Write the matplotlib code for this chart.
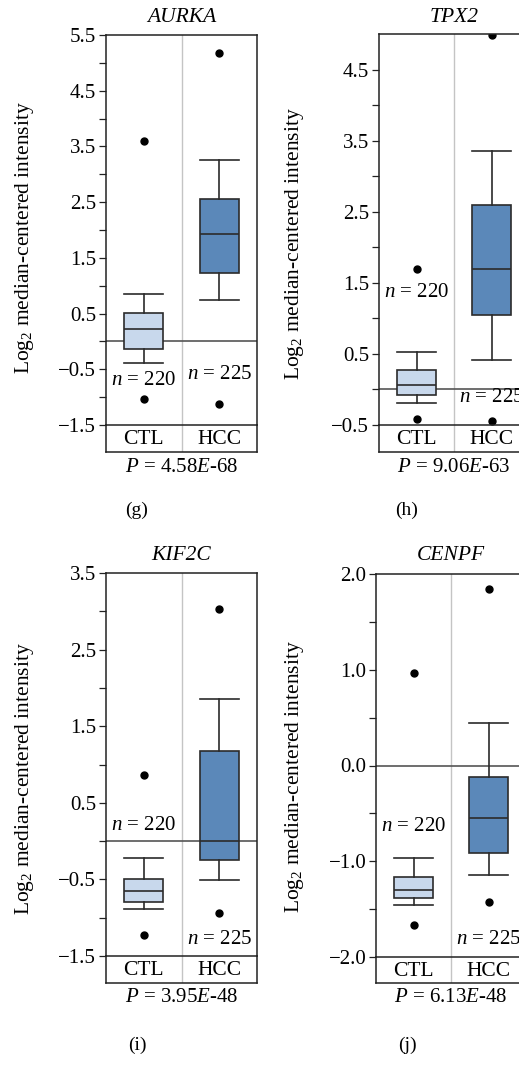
import numpy as np
import matplotlib
matplotlib.use('Agg')
import matplotlib.pyplot as plt
from matplotlib.ticker import FuncFormatter

plt.rcParams['font.family'] = ['Liberation Serif', 'DejaVu Serif']
plt.rcParams['mathtext.fontset'] = 'custom'
plt.rcParams['mathtext.rm'] = 'Liberation Serif'
plt.rcParams['mathtext.it'] = 'Liberation Serif:italic'

# data
genes = ['AURKA', 'TPX2', 'KIF2C', 'CENPF']
panel_tags = ['(g)', '(h)', '(i)', '(j)']
groups = ['CTL', 'HCC']
n_counts = [220, 225]
p_mant = ['4.58', '9.06', '3.95', '6.13']
p_exp = ['68', '63', '48', '48']

# CTL box stats per gene
ctl_whislo = [-0.39, -0.19, -0.89, -1.46]
ctl_q1 = [-0.14, -0.08, -0.79, -1.38]
ctl_med = [0.22, 0.06, -0.65, -1.30]
ctl_q3 = [0.51, 0.27, -0.50, -1.16]
ctl_whishi = [0.86, 0.52, -0.22, -0.97]
ctl_fliers = [[3.60, -1.03], [1.70, -0.42], [0.86, -1.23], [0.97, -1.67]]

# HCC box stats per gene
hcc_whislo = [0.74, 0.42, -0.51, -1.14]
hcc_q1 = [1.23, 1.05, -0.25, -0.91]
hcc_med = [1.92, 1.70, 0.0, -0.55]
hcc_q3 = [2.56, 2.59, 1.18, -0.12]
hcc_whishi = [3.25, 3.36, 1.85, 0.44]
hcc_fliers = [[5.17, -1.13], [4.98, -0.44], [3.03, -0.94], [1.84, -1.43]]

y_ranges = [(-1.5, 5.5), (-0.5, 5.0), (-1.5, 3.5), (-2.0, 2.0)]
n_label_y = [(-0.70, -0.60), (1.36, -0.12), (0.20, -1.28), (-0.64, -1.82)]

# layout in pixels: left, right, top, baseline, strip bottom
W, H = 519, 1070
layout = [(106, 257, 35, 425, 452), (379, 529, 34, 425, 452),
          (106, 257, 573, 956, 983), (376, 526, 574, 957, 983)]
title_y = [17, 18, 556, 556]
p_y = [468, 468, 998, 998]
tag_pos = [(137, 510), (407, 510), (137, 1045), (407, 1045)]
ylab_pos = [(25, 238), (295, 244), (25, 779), (295, 777)]

light = '#c8d8ec'
dark = '#5b88b9'
edge = '#2b2b2b'
frame = '#222222'


def fx(x):
    return x / W


def fy(y):
    return 1 - y / H


def fmt(v, pos):
    return ('%.1f' % v).replace('-', '\u2212')


fig = plt.figure(figsize=(W / 100, H / 100), dpi=100)

for i, gene in enumerate(genes):
    left, right, top, base, bot = layout[i]
    strip = fig.add_axes([fx(left), fy(bot), fx(right) - fx(left), fy(base) - fy(bot)])
    ax = fig.add_axes([fx(left), fy(base), fx(right) - fx(left), fy(top) - fy(base)])

    stats = [
        dict(med=ctl_med[i], q1=ctl_q1[i], q3=ctl_q3[i], whislo=ctl_whislo[i],
             whishi=ctl_whishi[i], fliers=ctl_fliers[i], label=groups[0]),
        dict(med=hcc_med[i], q1=hcc_q1[i], q3=hcc_q3[i], whislo=hcc_whislo[i],
             whishi=hcc_whishi[i], fliers=hcc_fliers[i], label=groups[1]),
    ]
    bp = ax.bxp(stats, positions=[1, 2], widths=0.52, capwidths=[0.52, 0.52],
                patch_artist=True, showfliers=True,
                boxprops=dict(edgecolor=edge, linewidth=1.2),
                medianprops=dict(color=edge, linewidth=1.2),
                whiskerprops=dict(color=edge, linewidth=1.2),
                capprops=dict(color=edge, linewidth=1.2),
                flierprops=dict(marker='o', markerfacecolor='black',
                                markeredgecolor='black', markersize=5))
    for patch, c in zip(bp['boxes'], [light, dark]):
        patch.set_facecolor(c)

    ax.axhline(0, color='#555555', lw=1.2, zorder=1)
    ax.axvline(1.5, color='#c4c4c4', lw=1.0, zorder=0)
    ax.set_xlim(0.5, 2.5)
    lo, hi = y_ranges[i]
    ax.set_ylim(lo, hi)
    ax.set_yticks(np.arange(lo, hi + 0.01, 1.0))
    ax.set_yticks(np.arange(lo + 0.5, hi, 1.0), minor=True)
    ax.yaxis.set_major_formatter(FuncFormatter(fmt))
    ax.set_xticks([])
    ax.tick_params(axis='y', which='both', direction='out', length=5, width=0.9,
                   color=frame, labelsize=15, pad=2)
    ax.patch.set_alpha(0)
    for s in ax.spines.values():
        s.set_color(frame)
        s.set_linewidth(1.1)

    for k, g in enumerate(groups):
        ax.text(k + 1, n_label_y[i][k], '$n$ = %d' % n_counts[k], ha='center',
                va='center', fontsize=15)

    strip.set_xlim(0.5, 2.5)
    strip.set_ylim(0, 1)
    strip.axvline(1.5, color='#c4c4c4', lw=1.0)
    strip.set_xticks([])
    strip.set_yticks([])
    strip.patch.set_alpha(0)
    strip.spines['top'].set_visible(False)
    for s in ['left', 'right', 'bottom']:
        strip.spines[s].set_color(frame)
        strip.spines[s].set_linewidth(1.1)
    for k, g in enumerate(groups):
        strip.text(k + 1, 0.45, g, ha='center', va='center', fontsize=15.5)

    cx = (left + right) / 2
    fig.text(fx(cx), fy(title_y[i]), gene, ha='center', va='center',
             fontsize=15.5, style='italic')
    fig.text(fx(cx), fy(p_y[i]), '$P$ = %s$E$-%s' % (p_mant[i], p_exp[i]),
             ha='center', va='center', fontsize=15)
    fig.text(fx(tag_pos[i][0]), fy(tag_pos[i][1]), panel_tags[i],
             ha='center', va='center', fontsize=14)
    fig.text(fx(ylab_pos[i][0]), fy(ylab_pos[i][1]),
             'Log$_2$ median-centered intensity', rotation=90,
             ha='center', va='center', fontsize=15.5)

fig.savefig('out.png', dpi=100)
